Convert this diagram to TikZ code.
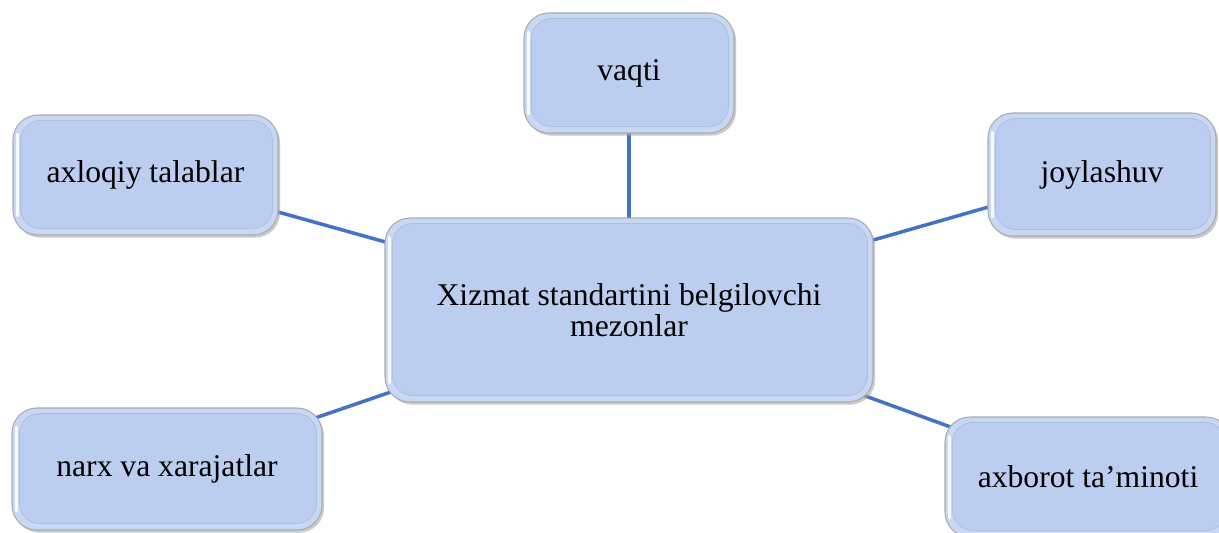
\documentclass[tikz,border=0pt]{standalone}
\usepackage{fontspec}
\setmainfont{Liberation Serif}
\usetikzlibrary{shadows}
\usetikzlibrary{backgrounds}

\definecolor{boxblue}{RGB}{187,206,239}
\definecolor{boxrim}{RGB}{200,215,243}
\definecolor{linkblue}{RGB}{68,114,196}

\tikzset{
  box/.style={draw=gray!65, line width=0.6pt, fill=boxrim, rounded corners=0.5cm,
    align=center, font=\fontsize{18}{17.6}\selectfont,
    drop shadow={shadow xshift=1.2pt, shadow yshift=-1.5pt, fill=gray!70, opacity=0.6},
    path picture={
      \draw[fill=boxblue, draw=boxblue!80!gray, line width=0.4pt, rounded corners=0.4cm]
        ([shift={(0.15,-0.11)}]path picture bounding box.north west) rectangle
        ([shift={(-0.11,0.13)}]path picture bounding box.south east);
      \draw[white, line width=2.2pt, opacity=0.85, line cap=round]
        ([shift={(0.09,-0.4)}]path picture bounding box.north west) --
        ([shift={(0.09,0.4)}]path picture bounding box.south west);}},
  link/.style={draw=linkblue, line width=2pt}
}

\begin{document}
\begin{tikzpicture}
\clip (0,0) rectangle (24.38,-10.66);
\node[box, minimum width=9.76cm, minimum height=3.68cm] (mid) at (12.58,-6.20) {Xizmat standartini belgilovchi\\mezonlar};
\node[box, minimum width=4.2cm, minimum height=2.4cm] (vaqti) at (12.58,-1.46) {vaqti}; % top
\node[box, minimum width=5.3cm, minimum height=2.4cm] (axloq) at (2.91,-3.50) {axloqiy talablar}; % left
\node[box, minimum width=4.56cm, minimum height=2.46cm] (joy) at (22.04,-3.49) {joylashuv}; % right
\node[box, minimum width=6.2cm, minimum height=2.44cm] (narx) at (3.34,-9.38) {narx va xarajatlar};
\node[box, minimum width=5.72cm, minimum height=2.4cm] (axbor) at (21.76,-9.54) {axborot ta’minoti};
\begin{scope}[on background layer]
\draw[link] (mid.center) -- (vaqti.center);
\draw[link] (mid.center) -- (axloq.center);
\draw[link] (mid.center) -- (joy.center);
\draw[link] (mid.center) -- (narx.center);
\draw[link] (mid.center) -- (axbor.center);
\end{scope}
\end{tikzpicture}
\end{document}
